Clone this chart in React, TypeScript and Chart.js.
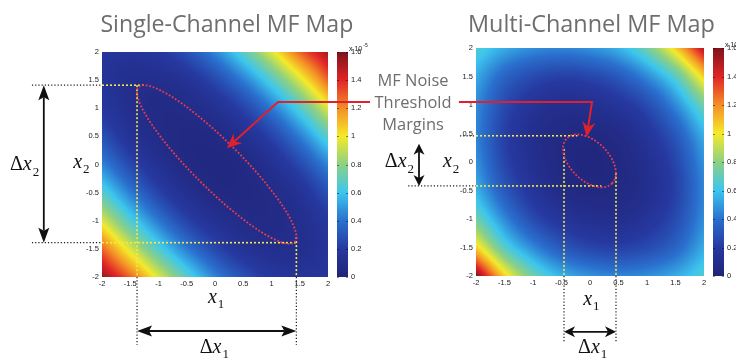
import React, { useEffect, useRef } from 'react';
import { Chart, registerables } from 'chart.js';

Chart.register(...registerables);

// ---------------- data ----------------
const gridX1 = [-2, -1.5, -1, -0.5, 0, 0.5, 1, 1.5, 2];
const gridX2 = [2, 1.5, 1, 0.5, 0, -0.5, -1, -1.5, -2];
const axisTickValues = [-2, -1.5, -1, -0.5, 0, 0.5, 1, 1.5, 2];
const axisTickLabels = ['-2', '-1.5', '-1', '-0.5', '0', '0.5', '1', '1.5', '2'];
const colorTickValues = [0, 0.2, 0.4, 0.6, 0.8, 1, 1.2, 1.4, 1.6];
const colorTickLabels = ['0', '0.2', '0.4', '0.6', '0.8', '1', '1.2', '1.4', '1.6'];
const colorMin = 0;
const colorMax = 1.6;
const colorUnit = ['x 10', '-5'];

// MF map values (x10^-5), rows x2 = 2 .. -2, columns x1 = -2 .. 2
const singleChannelMF = [
  [0.17, 0.16, 0.19, 0.29, 0.45, 0.68, 0.96, 1.28, 1.52],
  [0.16, 0.11, 0.11, 0.15, 0.26, 0.43, 0.66, 0.95, 1.28],
  [0.19, 0.11, 0.07, 0.08, 0.13, 0.24, 0.42, 0.66, 0.96],
  [0.29, 0.15, 0.08, 0.05, 0.06, 0.12, 0.24, 0.43, 0.68],
  [0.45, 0.26, 0.13, 0.06, 0.04, 0.06, 0.13, 0.26, 0.45],
  [0.68, 0.43, 0.24, 0.12, 0.06, 0.05, 0.08, 0.15, 0.29],
  [0.96, 0.66, 0.42, 0.24, 0.13, 0.08, 0.07, 0.11, 0.19],
  [1.28, 0.95, 0.66, 0.43, 0.26, 0.15, 0.11, 0.11, 0.16],
  [1.55, 1.28, 0.96, 0.68, 0.45, 0.29, 0.19, 0.16, 0.17],
];

const multiChannelMF = [
  [0.66, 0.54, 0.47, 0.45, 0.48, 0.56, 0.74, 1.06, 1.50],
  [0.54, 0.36, 0.27, 0.23, 0.25, 0.32, 0.46, 0.68, 1.06],
  [0.47, 0.27, 0.16, 0.11, 0.12, 0.17, 0.27, 0.46, 0.74],
  [0.45, 0.23, 0.11, 0.06, 0.05, 0.08, 0.17, 0.32, 0.56],
  [0.48, 0.25, 0.12, 0.05, 0.03, 0.05, 0.12, 0.25, 0.48],
  [0.56, 0.32, 0.17, 0.08, 0.05, 0.06, 0.11, 0.23, 0.45],
  [0.74, 0.46, 0.27, 0.17, 0.12, 0.11, 0.16, 0.27, 0.47],
  [1.06, 0.68, 0.46, 0.32, 0.25, 0.23, 0.27, 0.36, 0.54],
  [1.60, 1.06, 0.74, 0.56, 0.48, 0.45, 0.47, 0.54, 0.66],
];

// annotation geometry in (x1, x2) data units
const singleGuidesOutside = [
  [[-3.24, 1.41], [-2, 1.41]],
  [[-3.24, -1.39], [-2, -1.39]],
  [[-1.38, -2], [-1.38, -3.21]],
  [[1.44, -2], [1.44, -3.21]],
];
const singleGuidesInside = [
  [[-2, 1.41], [-1.25, 1.41]],
  [[-2, -1.39], [1.44, -1.39]],
  [[-1.38, 1.41], [-1.38, -2]],
  [[1.44, -1.29], [1.44, -2]],
];
const singleMeasureArrows = [
  [[-3.03, 1.41], [-3.03, -1.39]],
  [[-1.38, -2.96], [1.44, -2.96]],
];
const singlePointer = [[2.8, 1.11], [1.115, 1.11], [0.21, 0.29]];
const singleMargin = { cx: 0.03, cy: 0.0, major: 1.95, minor: 0.42 };

const multiGuidesOutside = [
  [[-2.28, 0.46], [-2, 0.46]],
  [[-3.19, -0.42], [-2, -0.42]],
  [[-0.456, -2], [-0.456, -3.16]],
  [[0.456, -2], [0.456, -3.16]],
];
const multiGuidesInside = [
  [[-2, 0.46], [-0.22, 0.46]],
  [[-2, -0.42], [0.2, -0.42]],
  [[-0.456, 0.23], [-0.456, -2]],
  [[0.456, -0.19], [0.456, -2]],
];
const multiMeasureArrows = [
  [[-3.0, 0.32], [-3.0, -0.42]],
  [[-0.456, -2.98], [0.456, -2.98]],
];
const multiPointer = [[-2.3, 1.053], [0.035, 1.053], [-0.06, 0.44]];
const multiMargin = { cx: -0.01, cy: 0.02, major: 0.56, minor: 0.34 };

const singleTitle = 'Single-Channel MF Map';
const multiTitle = 'Multi-Channel MF Map';
const noteLines = ['MF Noise', 'Threshold', 'Margins'];

// ---------------- styles / helpers ----------------
const colorStops: [number, number[]][] = [
  [0, [32, 36, 120]],
  [0.125, [38, 56, 160]],
  [0.25, [42, 112, 206]],
  [0.375, [60, 198, 238]],
  [0.5, [140, 208, 132]],
  [0.625, [244, 234, 42]],
  [0.75, [244, 142, 38]],
  [0.875, [224, 36, 40]],
  [1, [124, 20, 26]],
];

function colormap(t: number) {
  const tt = Math.max(0, Math.min(1, t));
  for (let i = 1; i < colorStops.length; i++) {
    const [t1, c1] = colorStops[i];
    const [t0, c0] = colorStops[i - 1];
    if (tt <= t1) {
      const f = (tt - t0) / (t1 - t0);
      return [0, 1, 2].map((k) => Math.round(c0[k] + (c1[k] - c0[k]) * f));
    }
  }
  return colorStops[colorStops.length - 1][1];
}

function cr(p0: number, p1: number, p2: number, p3: number, t: number) {
  return p1 + 0.5 * t * (p2 - p0 + t * (2 * p0 - 5 * p1 + 4 * p2 - p3 + t * (3 * (p1 - p2) + p3 - p0)));
}

function sampleGrid(grid: number[][], x1: number, x2: number) {
  const n = gridX1.length;
  const gx = (x1 - gridX1[0]) / (gridX1[1] - gridX1[0]);
  const gy = (x2 - gridX2[0]) / (gridX2[1] - gridX2[0]);
  const ix = Math.min(Math.max(Math.floor(gx), 0), n - 2);
  const iy = Math.min(Math.max(Math.floor(gy), 0), n - 2);
  const tx = gx - ix;
  const ty = gy - iy;
  const cell = (r: number, c: number): number => {
    if (r < 0) return 2 * cell(0, c) - cell(1, c);
    if (r > n - 1) return 2 * cell(n - 1, c) - cell(n - 2, c);
    if (c < 0) return 2 * grid[r][0] - grid[r][1];
    if (c > n - 1) return 2 * grid[r][n - 1] - grid[r][n - 2];
    return grid[r][c];
  };
  const rowVal = (r: number) => cr(cell(r, ix - 1), cell(r, ix), cell(r, ix + 1), cell(r, ix + 2), tx);
  return cr(rowVal(iy - 1), rowVal(iy), rowVal(iy + 1), rowVal(iy + 2), ty);
}

function arrowHead(ctx: CanvasRenderingContext2D, tx: number, ty: number, ux: number, uy: number, len: number, hw: number, notch: number) {
  const bx = tx - ux * len;
  const by = ty - uy * len;
  const nx = -uy;
  const ny = ux;
  ctx.beginPath();
  ctx.moveTo(tx, ty);
  ctx.lineTo(bx + nx * hw, by + ny * hw);
  ctx.lineTo(tx - ux * (len - notch), ty - uy * (len - notch));
  ctx.lineTo(bx - nx * hw, by - ny * hw);
  ctx.closePath();
  ctx.fill();
}

const SERIF = '"Liberation Serif", "DejaVu Serif", "Times New Roman", serif';
const SANS = '"Open Sans", Lato, "Noto Sans", sans-serif';
const TICK_FONT = { family: '"Liberation Sans", Arial, sans-serif', size: 7.5 };

function drawMath(ctx: CanvasRenderingContext2D, x: number, y: number, delta: boolean, sub: string, size: number) {
  ctx.fillStyle = '#111';
  ctx.textAlign = 'left';
  ctx.textBaseline = 'alphabetic';
  let cx = x;
  if (delta) {
    ctx.font = `${size}px ${SERIF}`;
    ctx.fillText('Δ', cx, y);
    cx += ctx.measureText('Δ').width;
  }
  ctx.font = `italic ${size}px ${SERIF}`;
  ctx.fillText('x', cx, y);
  cx += ctx.measureText('x').width;
  ctx.font = `${Math.round(size * 0.66)}px ${SERIF}`;
  ctx.fillText(sub, cx + 1, y + size * 0.27);
}

function fittedFont(ctx: CanvasRenderingContext2D, text: string, targetW: number, weight: string) {
  ctx.font = `${weight} 24px ${SANS}`;
  const w = ctx.measureText(text).width;
  return (24 * targetW) / w;
}

function makePlugins(spec: any) {
  const heat = {
    id: 'heatmap',
    beforeDatasetsDraw(chart: any) {
      const { ctx, chartArea: a, scales } = chart;
      const xs = scales.x;
      const ys = scales.y;
      const L = Math.round(a.left);
      const T = Math.round(a.top);
      const W = Math.round(a.right) - L;
      const H = Math.round(a.bottom) - T;
      const off = document.createElement('canvas');
      off.width = W;
      off.height = H;
      const octx = off.getContext('2d')!;
      const img = octx.createImageData(W, H);
      for (let j = 0; j < H; j++) {
        const v2 = ys.getValueForPixel(T + j + 0.5);
        for (let i = 0; i < W; i++) {
          const v1 = xs.getValueForPixel(L + i + 0.5);
          const val = sampleGrid(spec.grid, v1, v2);
          const c = colormap((val - colorMin) / (colorMax - colorMin));
          const k = (j * W + i) * 4;
          img.data[k] = c[0];
          img.data[k + 1] = c[1];
          img.data[k + 2] = c[2];
          img.data[k + 3] = 255;
        }
      }
      octx.putImageData(img, 0, 0);
      ctx.drawImage(off, L, T);

      // colour bar drawn along the cb scale
      const cb = scales.cb;
      const bx = Math.round(cb.left + spec.cbGap);
      const bw = 11;
      const yTop = Math.round(cb.getPixelForValue(colorMax));
      const yBot = Math.round(cb.getPixelForValue(colorMin));
      for (let y = yTop; y < yBot; y++) {
        const v = cb.getValueForPixel(y + 0.5);
        const c = colormap((v - colorMin) / (colorMax - colorMin));
        ctx.fillStyle = `rgb(${c[0]},${c[1]},${c[2]})`;
        ctx.fillRect(bx, y, bw, 1);
      }
      ctx.fillStyle = 'rgba(0,0,0,0.45)';
      colorTickValues.forEach((v) => {
        const y = Math.round(cb.getPixelForValue(v));
        ctx.fillRect(bx + bw - 2, y, 2, 1);
        ctx.fillRect(bx, y, 2, 1);
      });
      ctx.fillStyle = '#222';
      ctx.font = `7px ${TICK_FONT.family}`;
      ctx.textAlign = 'left';
      ctx.textBaseline = 'alphabetic';
      ctx.fillText(colorUnit[0], bx + bw + 1, yTop - 1);
      const uw = ctx.measureText(colorUnit[0]).width;
      ctx.font = `5px ${TICK_FONT.family}`;
      ctx.fillText(colorUnit[1], bx + bw + 2 + uw, yTop - 5);
    },
  };

  const overlay = {
    id: 'overlay',
    afterDraw(chart: any) {
      const { ctx, scales } = chart;
      const xs = scales.x;
      const ys = scales.y;
      const P = (p: number[]) => [xs.getPixelForValue(p[0]), ys.getPixelForValue(p[1])];
      ctx.save();

      // threshold margin ellipse (red dotted)
      const m = spec.margin;
      ctx.beginPath();
      for (let k = 0; k <= 180; k++) {
        const th = (k / 180) * Math.PI * 2;
        const u = m.major * Math.cos(th);
        const w = m.minor * Math.sin(th);
        const dx = (u + w) / Math.SQRT2;
        const dy = (-u + w) / Math.SQRT2;
        const [px, py] = P([m.cx + dx, m.cy + dy]);
        if (k === 0) ctx.moveTo(px, py);
        else ctx.lineTo(px, py);
      }
      ctx.strokeStyle = '#f03a4a';
      ctx.lineWidth = 1.8;
      ctx.setLineDash([1.8, 1.8]);
      ctx.stroke();
      ctx.setLineDash([]);

      // measurement double arrows
      ctx.strokeStyle = '#111';
      ctx.fillStyle = '#111';
      ctx.lineWidth = 1.8;
      spec.arrows.forEach((seg: number[][]) => {
        const [ax, ay] = P(seg[0]);
        const [bx, by] = P(seg[1]);
        const d = Math.hypot(bx - ax, by - ay);
        const ux = (bx - ax) / d;
        const uy = (by - ay) / d;
        const len = spec.headLen;
        ctx.beginPath();
        ctx.moveTo(ax + ux * (len - 3), ay + uy * (len - 3));
        ctx.lineTo(bx - ux * (len - 3), by - uy * (len - 3));
        ctx.stroke();
        arrowHead(ctx, bx, by, ux, uy, len, 5.5, 3);
        arrowHead(ctx, ax, ay, -ux, -uy, len, 5.5, 3);
      });

      // red pointer
      const pts = spec.pointer.map(P);
      const n = pts.length;
      const [tx, ty] = pts[n - 1];
      const [sx, sy] = pts[n - 2];
      const dd = Math.hypot(tx - sx, ty - sy);
      const ux = (tx - sx) / dd;
      const uy = (ty - sy) / dd;
      ctx.strokeStyle = '#e2202c';
      ctx.fillStyle = '#e2202c';
      ctx.lineWidth = 2;
      ctx.beginPath();
      ctx.moveTo(pts[0][0], pts[0][1]);
      for (let i = 1; i < n - 1; i++) ctx.lineTo(pts[i][0], pts[i][1]);
      ctx.lineTo(tx - ux * 10, ty - uy * 10);
      ctx.stroke();
      arrowHead(ctx, tx, ty, ux, uy, 15, 6.5, 5);

      // math labels
      spec.labels.forEach((lb: any) => {
        const [px, py] = P(lb.at);
        drawMath(ctx, px, py, lb.delta, lb.sub, 20);
      });

      // title
      const [tcx, tcy] = P(spec.titleAt);
      const tsize = fittedFont(ctx, spec.title, spec.titleW, '400');
      ctx.font = `400 ${tsize}px ${SANS}`;
      ctx.fillStyle = '#6e6e6e';
      ctx.textAlign = 'center';
      ctx.textBaseline = 'alphabetic';
      ctx.fillText(spec.title, tcx, tcy);

      // note text
      if (spec.note) {
        const nsize = fittedFont(ctx, spec.note.lines[1], spec.note.width, '400');
        ctx.font = `400 ${nsize}px ${SANS}`;
        ctx.fillStyle = '#6e6e6e';
        ctx.textAlign = 'center';
        spec.note.lines.forEach((t: string, i: number) => {
          const [px, py] = P([spec.note.x1, spec.note.baselines[i]]);
          ctx.fillText(t, px, py);
        });
      }
      ctx.restore();
    },
  };
  return [heat, overlay];
}

function lineDatasets(segs: number[][][], color: string, dash: number[], width: number) {
  return segs.map((s) => ({
    data: s.map(([x, y]) => ({ x, y })),
    showLine: true,
    borderColor: color,
    borderWidth: width,
    borderDash: dash,
    pointRadius: 0,
    clip: false,
    fill: false,
    tension: 0,
  }));
}

function buildConfig(spec: any) {
  const tickCommon = { font: TICK_FONT, color: '#1a1a1a' };
  return {
    type: 'scatter',
    data: {
      datasets: [
        ...lineDatasets(spec.outside, '#1a1a1a', [1.2, 2], 1.2),
        ...lineDatasets(spec.inside, '#f4e84a', [2, 2], 1.6),
      ],
    },
    options: {
      animation: false,
      responsive: false,
      devicePixelRatio: 1,
      events: [],
      layout: { padding: { left: spec.padLeft, top: spec.padTop, right: 0, bottom: 0 } },
      plugins: { legend: { display: false }, tooltip: { enabled: false }, title: { display: false } },
      scales: {
        x: {
          type: 'linear',
          position: 'bottom',
          min: -2,
          max: 2,
          afterBuildTicks: (s: any) => {
            s.ticks = axisTickValues.map((value) => ({ value }));
          },
          ticks: { ...tickCommon, padding: 2, maxRotation: 0, autoSkip: false, callback: (_v: any, i: number) => axisTickLabels[i] },
          grid: { display: false, drawTicks: false },
          border: { display: false },
          afterFit: (s: any) => {
            s.height = spec.xAxisH;
          },
        },
        y: {
          type: 'linear',
          position: 'left',
          min: -2,
          max: 2,
          afterBuildTicks: (s: any) => {
            s.ticks = axisTickValues.map((value) => ({ value }));
          },
          ticks: { ...tickCommon, padding: 3, autoSkip: false, callback: (_v: any, i: number) => axisTickLabels[i] },
          grid: { display: false, drawTicks: false },
          border: { display: false },
          afterFit: (s: any) => {
            s.width = spec.yAxisW;
          },
        },
        cb: {
          type: 'linear',
          position: 'right',
          min: colorMin,
          max: colorMax,
          afterBuildTicks: (s: any) => {
            s.ticks = colorTickValues.map((value) => ({ value }));
          },
          ticks: { ...tickCommon, padding: spec.cbGap + 14, autoSkip: false, callback: (_v: any, i: number) => colorTickLabels[i] },
          grid: { display: false, drawTicks: false },
          border: { display: false },
          afterFit: (s: any) => {
            s.width = spec.cbW;
          },
        },
      },
    },
    plugins: makePlugins(spec),
  };
}

const singleSpec = {
  left: 0,
  width: 370,
  grid: singleChannelMF,
  padLeft: 80,
  padTop: 52,
  yAxisW: 22,
  xAxisH: 84,
  cbW: 42,
  cbGap: 9,
  outside: singleGuidesOutside,
  inside: singleGuidesInside,
  arrows: singleMeasureArrows,
  headLen: 15,
  pointer: singlePointer,
  margin: singleMargin,
  title: singleTitle,
  titleAt: [0.21, 2.36],
  titleW: 253,
  labels: [
    { delta: true, sub: '2', at: [-3.63, -0.1] },
    { delta: false, sub: '2', at: [-2.51, -0.06] },
    { delta: false, sub: '1', at: [-0.124, -2.46] },
    { delta: true, sub: '1', at: [-0.27, -3.35] },
  ],
  note: null,
};

const multiSpec = {
  left: 370,
  width: 366,
  grid: multiChannelMF,
  padLeft: 84,
  padTop: 48,
  yAxisW: 22,
  xAxisH: 85,
  cbW: 32,
  cbGap: 9,
  outside: multiGuidesOutside,
  inside: multiGuidesInside,
  arrows: multiMeasureArrows,
  headLen: 11,
  pointer: multiPointer,
  margin: multiMargin,
  title: multiTitle,
  titleAt: [0.026, 2.28],
  titleW: 247,
  labels: [
    { delta: true, sub: '2', at: [-3.6, -0.09] },
    { delta: false, sub: '2', at: [-2.58, -0.09] },
    { delta: false, sub: '1', at: [-0.12, -2.51] },
    { delta: true, sub: '1', at: [-0.21, -3.35] },
  ],
  note: { lines: noteLines, x1: -3.105, baselines: [1.333, 0.947, 0.561], width: 77 },
};

function Panel({ spec }: { spec: any }) {
  const ref = useRef<HTMLCanvasElement>(null);
  useEffect(() => {
    const chart = new Chart(ref.current as HTMLCanvasElement, buildConfig(spec) as any);
    return () => chart.destroy();
  }, [spec]);
  return (
    <canvas
      ref={ref}
      width={spec.width}
      height={361}
      style={{ position: 'absolute', left: spec.left, top: 0, width: spec.width, height: 361 }}
    />
  );
}

export default function App() {
  return (
    <div style={{ position: 'fixed', left: 0, top: 0, width: 736, height: 361, background: '#fff', overflow: 'hidden' }}>
      <Panel spec={singleSpec} />
      <Panel spec={multiSpec} />
    </div>
  );
}
